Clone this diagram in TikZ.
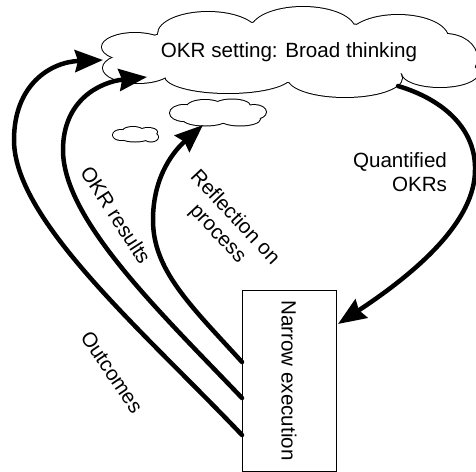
\documentclass[tikz,border=0pt]{standalone}
\usepackage{fontspec}
\setmainfont{Liberation Sans}
\usetikzlibrary{arrows.meta}
\begin{document}
\begin{tikzpicture}[x=1pt,y=-1pt,
  flow/.style={line width=4.5pt, line cap=round, -{Stealth[length=28pt,width=22pt,inset=3pt]}},
  lbl/.style={font=\fontsize{20.6}{23.5}\selectfont, inner sep=0pt},
  puffline/.style={draw=black, line width=2pt},
  pufffill/.style={fill=white},
]
\useasboundingbox (0,0) rectangle (476,471);
% clouds: outline pass then white fill pass
\def\puffs{135/47/33/14, 208/34/50/22, 303/30/52/23, 398/38/50/23, 445/58/32/24,
  440/73/38/14, 345/78/57/19, 228/76/63/17, 138/68/35/15, 289/52/160/30,
  184/113/14/8, 205/107/18/7, 232/106/18/6.5, 254/112/12/7, 240/119/20/6.5, 205/119/22/6.5, 218/113/40/8,
  121/135/8/5, 133/131/10/4, 148/132/9/4, 151/137/7/4.5, 135/138/13/3.5, 135/135/18/4}
\foreach \cx/\cy/\rx/\ry in \puffs
  \path[puffline] (\cx,\cy) ellipse [x radius=\rx, y radius=\ry];
\foreach \cx/\cy/\rx/\ry in \puffs
  \path[pufffill] (\cx,\cy) ellipse [x radius=\rx, y radius=\ry];

\node[lbl] (goal) at (289,52) {OKR setting: Broad thinking};
\coordinate (c1) at (218,113);
\coordinate (c2) at (135,135);
\node[draw, line width=0.8pt, lbl, rotate=-90, minimum width=181pt, minimum height=94pt] (exec) at (289,380.5) {Narrow execution};

\coordinate (s1) at (242,362);
\coordinate (s2) at (242,398);
\coordinate (s3) at (242,435);
\coordinate (t1) at (203,125);
\coordinate (t2) at (147,77);
\coordinate (t3) at (103,60);
\coordinate (q0) at (398,86);
\coordinate (q1) at (338,324);

\draw[flow] (s3) .. controls (142,330) and (14,220) .. (14,140) .. controls (14,85) and (50,62) .. (t3);
\draw[flow] (s2) .. controls (162,314) and (63,220) .. (63,150) .. controls (63,100) and (100,82) .. (t2);
\draw[flow] (s1) .. controls (190,305) and (153,270) .. (153,220) .. controls (153,175) and (175,150) .. (t1);
\draw[flow] (q0) .. controls (445,100) and (476,130) .. (475,170) .. controls (475,220) and (420,270) .. (q1);

\node[lbl, rotate=-57] (l1) at (116,215) {OKR results};
\node[lbl, rotate=-47, align=center] (l2) at (226,226) {Reflection on\\process};
\node[lbl, rotate=-56] (l3) at (112,372) {Outcomes};
\node[lbl, align=right] (l4) at (400,172) {Quantified\\OKRs};
\end{tikzpicture}
\end{document}
